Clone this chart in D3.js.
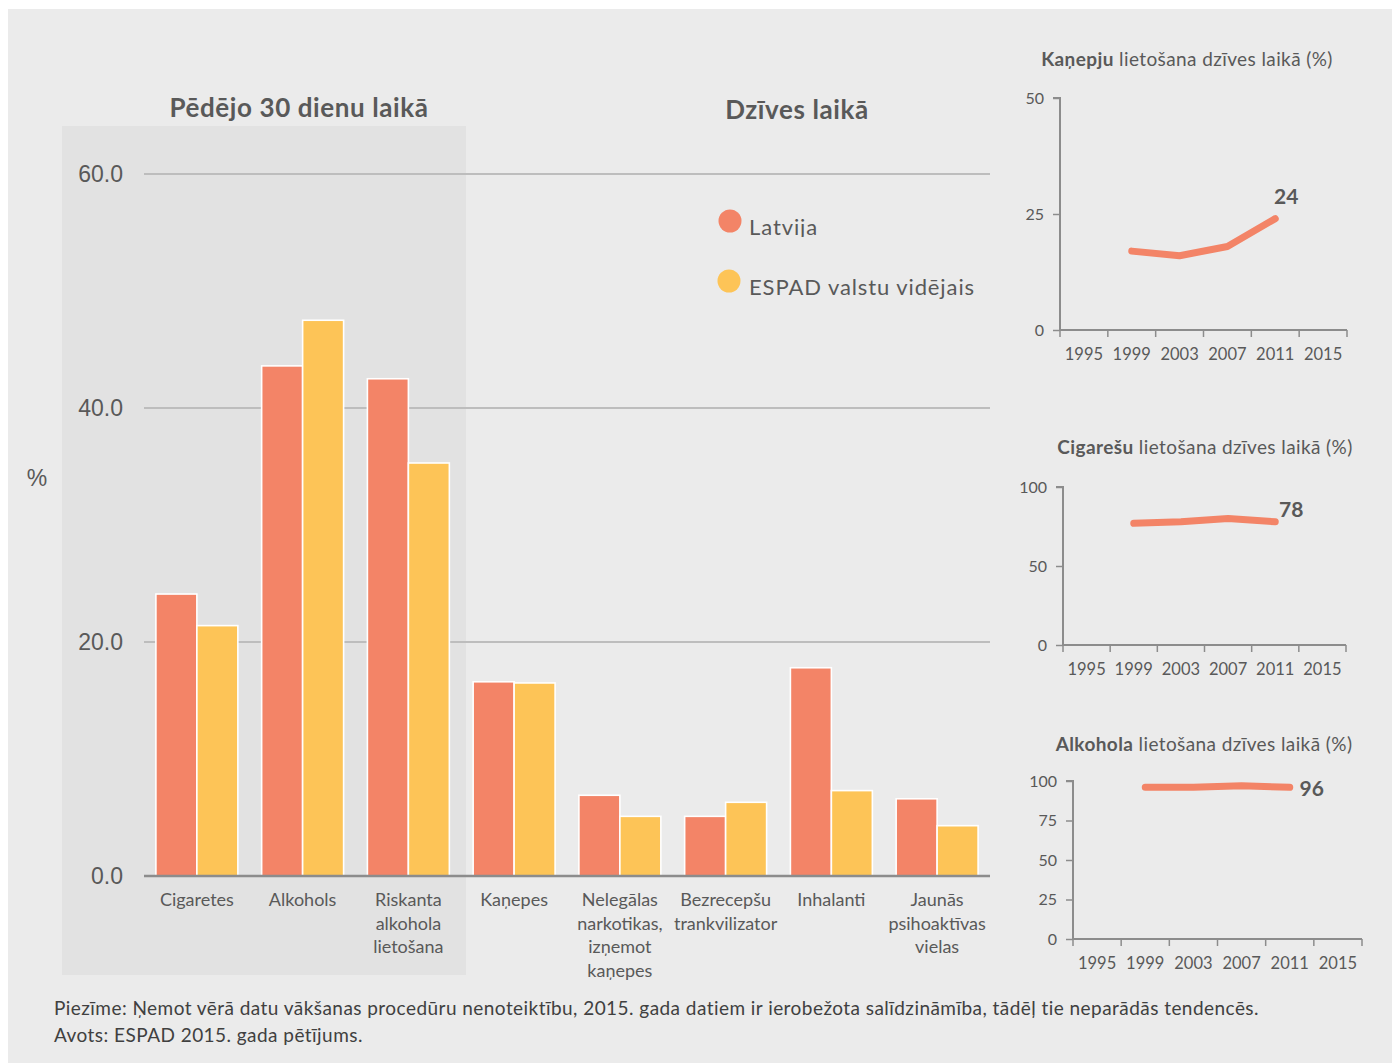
<!DOCTYPE html>
<html><head><meta charset="utf-8">
<script src="https://cdn.jsdelivr.net/npm/d3@7"></script>
<style>
html,body{margin:0;padding:0;background:#fff;}
svg{display:block;}
</style></head>
<body>
<svg id="chart" width="1393" height="1064"></svg>
<script>
// ---- data ----
const categories = [
  ["Cigaretes"],
  ["Alkohols"],
  ["Riskanta","alkohola","lietošana"],
  ["Kaņepes"],
  ["Nelegālas","narkotikas,","izņemot","kaņepes"],
  ["Bezrecepšu","trankvilizator"],
  ["Inhalanti"],
  ["Jaunās","psihoaktīvas","vielas"]
];
const latvia = [24.1, 43.6, 42.5, 16.6, 6.9, 5.1, 17.8, 6.6];
const espad  = [21.4, 47.5, 35.3, 16.5, 5.1, 6.3, 7.3, 4.3];
const seriesNames = ["Latvija", "ESPAD valstu vidējais"];
const yTicksMain = [0, 20, 40, 60];

const years = ["1995","1999","2003","2007","2011","2015"];
const cannabisYears = ["1999","2003","2007","2011"];
const cannabis = [17, 16, 18, 24];
const cigarettes = [77, 78, 80, 78];
const alcohol = [96, 96, 97, 96];
const cannabisTicks = [0, 25, 50];
const cigaretteTicks = [0, 50, 100];
const alcoholTicks = [0, 25, 50, 75, 100];

const footnotes = [
  "Piezīme: Ņemot vērā datu vākšanas procedūru nenoteiktību, 2015. gada datiem ir ierobežota salīdzināmība, tādēļ tie neparādās tendencēs.",
  "Avots: ESPAD 2015. gada pētījums."
];

// ---- styles ----
const C_LV = "#f38467", C_ES = "#fdc457";
const TXT = "#595959";
const SANS = "Lato, 'Open Sans', sans-serif";
const ARIAL = "'Liberation Sans', Arial, sans-serif";

const svg = d3.select("#chart");
svg.append("rect").attr("x",8).attr("y",9).attr("width",1384).attr("height",1054).attr("fill","#ebebeb");

// ---- main chart ----
const xL = 144, xR = 990, yB = 876, yT = 174;
const x = d3.scaleBand().domain(d3.range(categories.length)).range([xL, xR]).paddingInner(0.225).paddingOuter(0.1125);
const xs = d3.scaleBand().domain([0,1]).range([0, x.bandwidth()]);
const y = d3.scaleLinear().domain([0, 60]).range([yB, yT]);

// shaded region
svg.append("rect").attr("x",62).attr("y",126).attr("width",404).attr("height",849).attr("fill","#e2e2e2");

// gridlines
svg.append("g").selectAll("line").data(yTicksMain.filter(d=>d>0)).join("line")
  .attr("x1",xL).attr("x2",xR).attr("y1",d=>y(d)).attr("y2",d=>y(d))
  .attr("stroke","#bdbdbd").attr("stroke-width",2);

// y labels
svg.append("g").selectAll("text").data(yTicksMain).join("text")
  .attr("x",123).attr("y",d=>y(d)).attr("dy","0.36em").attr("text-anchor","end")
  .attr("font-family",ARIAL).attr("font-size",23).attr("fill",TXT)
  .text(d=>d.toFixed(1));
svg.append("text").attr("x",37).attr("y",478).attr("dy","0.36em").attr("text-anchor","middle")
  .attr("font-family",ARIAL).attr("font-size",23).attr("fill",TXT).text("%");

// bars
const groups = svg.append("g").selectAll("g").data(categories.map((c,i)=>i)).join("g")
  .attr("transform",i=>`translate(${x(i)},0)`);
groups.selectAll("rect").data(i=>[latvia[i], espad[i]]).join("rect")
  .attr("x",(d,j)=>xs(j)).attr("width",xs.bandwidth())
  .attr("y",d=>y(d)).attr("height",d=>yB-y(d))
  .attr("fill",(d,j)=>j===0?C_LV:C_ES).attr("stroke","#fff").attr("stroke-width",1.6);

// baseline
svg.append("line").attr("x1",xL).attr("x2",xR).attr("y1",yB).attr("y2",yB)
  .attr("stroke","#8c8c8c").attr("stroke-width",2.4);

// category labels
const catG = svg.append("g").selectAll("text").data(categories).join("text")
  .attr("x",(d,i)=>x(i)+x.bandwidth()/2).attr("y",906)
  .attr("text-anchor","middle").attr("font-family",SANS).attr("font-size",18).attr("fill",TXT);
catG.selectAll("tspan").data(d=>d).join("tspan")
  .attr("x",function(){return this.parentNode.getAttribute("x");})
  .attr("dy",(d,k)=>k===0?0:23.6).text(d=>d);

// section titles
svg.append("text").attr("x",299).attr("y",117).attr("text-anchor","middle").attr("letter-spacing",0.6)
  .attr("font-family",SANS).attr("font-weight","bold").attr("font-size",26).attr("fill",TXT).text("Pēdējo 30 dienu laikā");
svg.append("text").attr("x",797).attr("y",119).attr("text-anchor","middle").attr("letter-spacing",0.6)
  .attr("font-family",SANS).attr("font-weight","bold").attr("font-size",26).attr("fill",TXT).text("Dzīves laikā");

// legend
svg.append("defs").append("clipPath").attr("id","lgclip").append("rect")
  .attr("x",700).attr("y",200).attr("width",300).attr("height",37);
const leg = [{n:seriesNames[0],c:C_LV,cx:730,cy:221,ty:235},{n:seriesNames[1],c:C_ES,cx:729,cy:281,ty:295}];
svg.append("g").selectAll("circle").data(leg).join("circle")
  .attr("cx",d=>d.cx).attr("cy",d=>d.cy).attr("r",11.5).attr("fill",d=>d.c);
svg.append("g").selectAll("text").data(leg).join("text")
  .attr("x",749).attr("y",d=>d.ty).attr("font-family",SANS).attr("font-size",22).attr("letter-spacing",0.9).attr("fill",TXT)
  .attr("clip-path",(d,i)=>i===0?"url(#lgclip)":null).text(d=>d.n);

// ---- small charts ----
const smalls = [
  {bold:"Kaņepju", rest:" lietošana dzīves laikā (%)", tx:1187, ty:66, data:cannabis, max:50, ticks:cannabisTicks,
   x0:1060, x1:1347, yTop:98, yBot:330, lx:11, ly:-22},
  {bold:"Cigarešu", rest:" lietošana dzīves laikā (%)", tx:1205, ty:454, data:cigarettes, max:100, ticks:cigaretteTicks,
   x0:1063, x1:1346, yTop:487, yBot:645, lx:16, ly:-12},
  {bold:"Alkohola", rest:" lietošana dzīves laikā (%)", tx:1204, ty:751, data:alcohol, max:100, ticks:alcoholTicks,
   x0:1073, x1:1362, yTop:781, yBot:939, lx:22, ly:1}
];
smalls.forEach(s=>{
  const g = svg.append("g");
  const t = g.append("text").attr("x",s.tx).attr("y",s.ty).attr("text-anchor","middle").attr("letter-spacing",0.4)
    .attr("font-family",SANS).attr("font-size",19).attr("fill",TXT);
  t.append("tspan").attr("font-weight","bold").text(s.bold);
  t.append("tspan").text(s.rest);

  const sx = d3.scaleBand().domain(years).range([s.x0, s.x1]).padding(0);
  const sy = d3.scaleLinear().domain([0, s.max]).range([s.yBot, s.yTop]);

  // y axis
  const ya = g.append("g").attr("transform",`translate(${s.x0},0)`)
    .call(d3.axisLeft(sy).tickValues(s.ticks).tickSize(7).tickPadding(9));
  ya.select(".domain").attr("stroke","#8c8c8c").attr("stroke-width",2).attr("d",`M-7,${s.yTop}H0V${s.yBot}`);
  ya.selectAll(".tick line").attr("stroke","#8c8c8c").attr("stroke-width",1.5);
  ya.selectAll(".tick text").attr("font-family",SANS).attr("font-size",16).attr("fill",TXT);

  // x axis
  const xa = g.append("g");
  xa.append("line").attr("x1",s.x0).attr("x2",s.x1).attr("y1",s.yBot).attr("y2",s.yBot)
    .attr("stroke","#8c8c8c").attr("stroke-width",2);
  const bounds = years.map(yr=>sx(yr)).concat([s.x1]);
  xa.selectAll("line.tk").data(bounds).join("line").attr("class","tk")
    .attr("x1",d=>d).attr("x2",d=>d).attr("y1",s.yBot).attr("y2",s.yBot+7)
    .attr("stroke","#8c8c8c").attr("stroke-width",1.5);
  xa.selectAll("text").data(years).join("text")
    .attr("x",d=>sx(d)+sx.bandwidth()/2).attr("y",s.yBot+30)
    .attr("text-anchor","middle").attr("font-family",SANS).attr("font-size",16.5).attr("fill",TXT).text(d=>d);

  // line
  const pts = cannabisYears.map((yr,i)=>[sx(yr)+sx.bandwidth()/2, sy(s.data[i])]);
  g.append("path").attr("d",d3.line()(pts)).attr("fill","none").attr("stroke",C_LV)
    .attr("stroke-width",7).attr("stroke-linecap","round").attr("stroke-linejoin","round");
  const last = pts[pts.length-1];
  g.append("text").attr("x",last[0]+s.lx).attr("y",last[1]+s.ly).attr("dy","0.36em").attr("text-anchor","middle")
    .attr("font-family",SANS).attr("font-weight","bold").attr("font-size",21).attr("fill",TXT)
    .text(s.data[s.data.length-1]);
});

// footnotes
svg.append("g").selectAll("text").data(footnotes).join("text")
  .attr("x",54).attr("y",(d,i)=>1015+i*27).attr("font-family",SANS).attr("font-size",19).attr("letter-spacing",0.45)
  .attr("fill","#404040").text(d=>d);
</script>
</body></html>
